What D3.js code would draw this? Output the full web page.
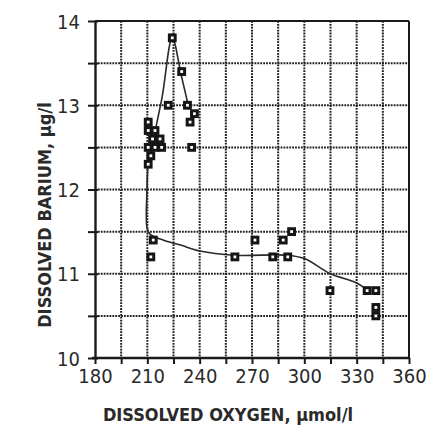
<!DOCTYPE html>
<html>
<head>
<meta charset="utf-8">
<script src="https://cdn.jsdelivr.net/npm/d3@7"></script>
<style>
  html, body { margin: 0; padding: 0; background: #fff; }
  svg { display: block; }
  .tick-label { font-family: "DejaVu Sans Condensed", "Liberation Sans Narrow", "Liberation Sans", Arial, sans-serif; font-size: 20px; fill: #2a2a2a; }
  .axis-title { font-family: "DejaVu Sans Condensed", "Liberation Sans Narrow", "Liberation Sans", Arial, sans-serif; font-size: 18px; font-weight: bold; fill: #2a2a2a; }
</style>
</head>
<body>
<svg id="chart" width="431" height="431"></svg>
<script>
// Dissolved oxygen (µmol/l) and dissolved barium (µg/l) samples
const oxygen = [224.3, 229.7, 222, 233, 237, 234.5, 210.5, 210.5, 214.4, 213, 217.3, 210.5, 214.4, 218.2, 235.4, 212, 210.5, 213.4, 212,
                260.2, 271.7, 281.9, 287.9, 290.5, 292.7, 314.7, 336, 341, 341, 341];
const barium = [13.8, 13.4, 13.0, 13.0, 12.9, 12.8, 12.8, 12.7, 12.7, 12.6, 12.6, 12.5, 12.5, 12.5, 12.5, 12.4, 12.3, 11.4, 11.2,
                11.2, 11.4, 11.2, 11.4, 11.2, 11.5, 10.8, 10.8, 10.8, 10.6, 10.5];

// Hand-fitted trend curve through the samples
const curveOxygen = [234, 229.5, 224.3, 218.5, 213.5, 210.5, 209.8, 209.8, 211.5, 219, 229, 240, 260, 290, 300, 315, 330, 337];
const curveBarium = [12.95, 13.35, 13.8, 13.1, 12.6, 12.3, 12.0, 11.55, 11.47, 11.4, 11.34, 11.27, 11.22, 11.22, 11.18, 11.0, 10.89, 10.79];

// Axis ticks
const xTicks = [180, 210, 240, 270, 300, 330, 360];
const yTicks = [10, 11, 12, 13, 14];
const xGrid = [195, 210, 225, 240, 255, 270, 285, 300, 315, 330, 345];
const yGrid = [10.5, 11, 11.5, 12, 12.5, 13, 13.5];

const svg = d3.select("#chart");
const plotLeft = 95, plotRight = 409, plotTop = 21, plotBottom = 358;

const x = d3.scaleLinear().domain([180, 360]).range([plotLeft, plotRight]);
const y = d3.scaleLinear().domain([10, 14]).range([plotBottom, plotTop]);

// Dotted grid
const grid = svg.append("g").attr("stroke", "#1e1e1e").attr("stroke-width", 2).attr("stroke-dasharray", "1.8,1.1");
grid.selectAll("line.v").data(xGrid).join("line").attr("class", "v")
  .attr("x1", d => x(d)).attr("x2", d => x(d)).attr("y1", plotTop).attr("y2", plotBottom);
grid.selectAll("line.h").data(yGrid).join("line").attr("class", "h")
  .attr("x1", plotLeft).attr("x2", plotRight).attr("y1", d => y(d)).attr("y2", d => y(d));

// Frame
const frame = svg.append("g").attr("stroke", "#1a1a1a").attr("fill", "none");
frame.append("line").attr("x1", plotLeft).attr("x2", plotRight).attr("y1", plotTop).attr("y2", plotTop).attr("stroke-width", 2);
frame.append("line").attr("x1", plotRight).attr("x2", plotRight).attr("y1", plotTop).attr("y2", plotBottom).attr("stroke-width", 2);

// Left axis
const yAxis = d3.axisLeft(y)
  .tickValues(d3.range(10, 14.01, 0.5))
  .tickSize(7)
  .tickSizeOuter(0)
  .tickFormat(d => yTicks.includes(d) ? d3.format("d")(d) : "");
const gy = svg.append("g").attr("transform", `translate(${plotLeft},0)`).call(yAxis);
gy.select(".domain").attr("stroke", "#1a1a1a").attr("stroke-width", 2.4);
gy.selectAll(".tick line").attr("stroke", "#1a1a1a").attr("stroke-width", 2).attr("x2", 3).attr("x1", -7);
gy.selectAll(".tick text").attr("class", "tick-label").attr("x", -15).attr("dy", "0.36em");

// Bottom axis
const xAxis = d3.axisBottom(x)
  .tickValues(d3.range(180, 360.01, 15))
  .tickSize(6)
  .tickSizeOuter(0)
  .tickFormat(d => xTicks.includes(d) ? d3.format("d")(d) : "");
const gx = svg.append("g").attr("transform", `translate(0,${plotBottom})`).call(xAxis);
gx.select(".domain").attr("stroke", "#1a1a1a").attr("stroke-width", 2.4).attr("d", `M${plotLeft - 3},0H${plotRight}`);
gx.selectAll(".tick line").attr("stroke", "#1a1a1a").attr("stroke-width", 2);
gx.selectAll(".tick text").attr("class", "tick-label").attr("y", 11).attr("dy", "0.71em");

// Trend curve
const curvePts = curveOxygen.map((o, i) => [o, curveBarium[i]]);
svg.append("path")
  .datum(curvePts)
  .attr("fill", "none")
  .attr("stroke", "#2a2a2a")
  .attr("stroke-width", 1.6)
  .attr("d", d3.line().x(d => x(d[0])).y(d => y(d[1])).curve(d3.curveCatmullRom.alpha(0.5)));

// Square markers: heavy outline with a small open centre
const pts = oxygen.map((o, i) => [o, barium[i]]);
svg.append("g").selectAll("rect").data(pts).join("rect")
  .attr("x", d => x(d[0]) - 2.9)
  .attr("y", d => y(d[1]) - 2.9)
  .attr("width", 5.8).attr("height", 5.8)
  .attr("fill", "#fff")
  .attr("stroke", "#151515")
  .attr("stroke-width", 3);

// Axis titles
svg.append("text").attr("class", "axis-title")
  .attr("x", 228).attr("y", 421)
  .attr("text-anchor", "middle")
  .text("DISSOLVED OXYGEN, µmol/l");
svg.append("text").attr("class", "axis-title")
  .attr("transform", `translate(51,215) rotate(-90)`)
  .attr("text-anchor", "middle")
  .text("DISSOLVED BARIUM, µg/l");
</script>
</body>
</html>
